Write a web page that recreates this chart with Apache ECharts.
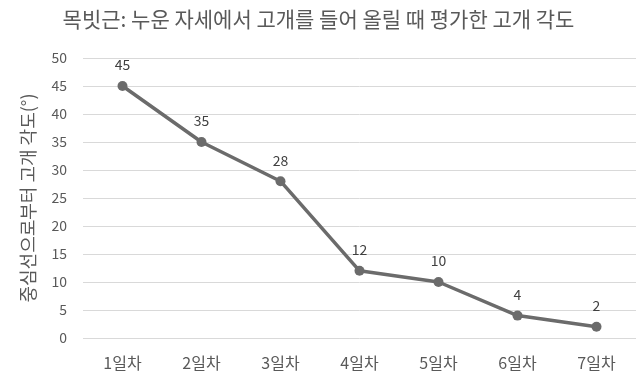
<!DOCTYPE html>
<html><head><meta charset="utf-8">
<script src="https://cdn.jsdelivr.net/npm/echarts@6/dist/echarts.min.js"></script>
<style>html,body{margin:0;padding:0;background:#fff}#c{width:637px;height:376px}</style>
</head><body><div id="c"></div>
<script>
const categories = ['1일차','2일차','3일차','4일차','5일차','6일차','7일차'];
const values = [45, 35, 28, 12, 10, 4, 2];
const titleText = '목빗근: 누운 자세에서 고개를 들어 올릴 때 평가한 고개 각도';
const yName = '중심선으로부터 고개 각도(°)';
const font = '"Noto Sans CJK KR", "Noto Sans", sans-serif';
const chart = echarts.init(document.getElementById('c'));
chart.setOption({
  animation: false,
  title: { text: titleText, left: 'center', top: 4, textStyle: { fontFamily: font, fontSize: 21, fontWeight: 'normal', color: '#595959' } },
  grid: { left: 83, right: 1, top: 58, bottom: 38 },
  xAxis: { type: 'category', data: categories, boundaryGap: true,
    axisLine: { show: false }, axisTick: { show: false },
    axisLabel: { fontFamily: font, fontSize: 16, color: '#595959', margin: 17 } },
  yAxis: { type: 'value', min: 0, max: 50, interval: 5,
    name: yName, nameLocation: 'middle', nameGap: 46, nameRotate: 90,
    nameTextStyle: { fontFamily: font, fontSize: 18, color: '#595959' },
    axisLine: { show: false }, axisTick: { show: false },
    axisLabel: { fontFamily: font, fontSize: 14, color: '#595959', margin: 16 },
    splitLine: { lineStyle: { color: '#d9d9d9', width: 1 } } },
  series: [{ type: 'line', data: values, symbol: 'circle', symbolSize: 10,
    lineStyle: { color: '#6b6b6b', width: 3.5 }, itemStyle: { color: '#6b6b6b' },
    label: { show: true, position: 'top', distance: 9, fontFamily: font, fontSize: 14, color: '#404040' } }]
});
</script></body></html>
